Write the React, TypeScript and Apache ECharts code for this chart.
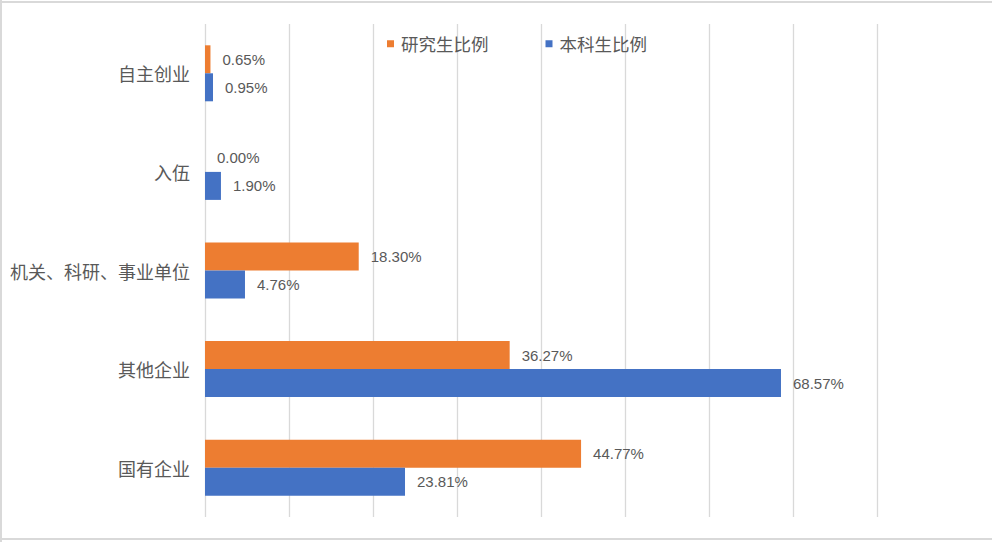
import React, { useEffect, useRef } from "react";
import * as echarts from "echarts";

const categories = ["国有企业", "其他企业", "机关、科研、事业单位", "入伍", "自主创业"];
const graduateValues = [44.77, 36.27, 18.3, 0.0, 0.65];
const undergradValues = [23.81, 68.57, 4.76, 1.9, 0.95];
const seriesNames = ["研究生比例", "本科生比例"];

export default function App() {
  const ref = useRef<HTMLDivElement>(null);
  useEffect(() => {
    if (!ref.current) return;
    const chart = echarts.init(ref.current, undefined, { renderer: "svg" });
    const labelStyle = {
      show: true,
      position: "right" as const,
      distance: 12,
      color: "#595959",
      fontSize: 15,
      fontFamily: "Liberation Sans, Arial, sans-serif",
      formatter: (p: any) => Number(p.value).toFixed(2) + "%",
    };
    chart.setOption({
      animation: false,
      backgroundColor: "#ffffff",
      color: ["#ED7D31", "#4472C4"],
      legend: {
        data: seriesNames,
        left: 382,
        top: 30,
        itemWidth: 7,
        itemHeight: 7,
        itemGap: 57,
        icon: "rect",
        textStyle: {
          color: "#595959",
          fontSize: 17.5,
          fontFamily: "Noto Sans CJK SC, sans-serif",
          padding: [0, 0, 0, 2],
        },
      },
      grid: { left: 205, right: 115, top: 24, bottom: 25, containLabel: false },
      xAxis: {
        type: "value",
        min: 0,
        max: 80,
        interval: 10,
        axisLabel: { show: false },
        axisLine: { show: false },
        axisTick: { show: false },
        splitLine: { show: true, lineStyle: { color: "#d9d9d9", width: 1.3 } },
      },
      yAxis: {
        type: "category",
        data: categories,
        axisLine: { show: false },
        axisTick: { show: false },
        axisLabel: {
          color: "#595959",
          fontSize: 18,
          margin: 15,
          fontFamily: "Noto Sans CJK SC, sans-serif",
        },
      },
      series: [
        {
          name: seriesNames[0],
          type: "bar",
          data: graduateValues,
          barWidth: 28,
          barGap: "0%",
          label: labelStyle,
        },
        {
          name: seriesNames[1],
          type: "bar",
          data: undergradValues,
          barWidth: 28,
          barGap: "0%",
          label: labelStyle,
        },
      ],
      graphic: [
        { type: "line", shape: { x1: 0, y1: 2, x2: 992, y2: 2 }, style: { stroke: "#d9d9d9", lineWidth: 2 } },
        { type: "line", shape: { x1: 1, y1: 0, x2: 1, y2: 542 }, style: { stroke: "#d9d9d9", lineWidth: 2 } },
        { type: "line", shape: { x1: 0, y1: 539, x2: 992, y2: 539 }, style: { stroke: "#d9d9d9", lineWidth: 2 } },
      ],
    });
    return () => chart.dispose();
  }, []);
  return (
    <div
      ref={ref}
      style={{ position: "fixed", left: 0, top: 0, width: 992, height: 542 }}
    />
  );
}
